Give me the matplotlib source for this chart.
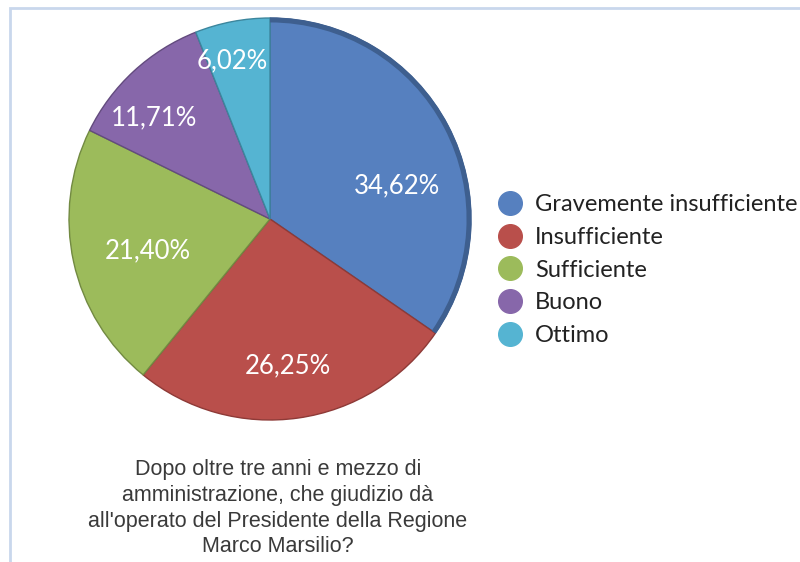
import matplotlib.pyplot as plt
from matplotlib.lines import Line2D
from matplotlib.patches import Rectangle, Arc

# Data
categories = ["Gravemente insufficiente", "Insufficiente", "Sufficiente", "Buono", "Ottimo"]
shares = [34.62, 26.25, 21.40, 11.71, 6.02]
colors = ["#5680bf", "#b94f4b", "#9cbb5b", "#8767aa", "#55b4d2"]
edges = ["#3e5f8f", "#8e3a37", "#728a42", "#634b7e", "#3c869d"]
question = ("Dopo oltre tre anni e mezzo di\namministrazione, che giudizio dà\n"
            "all'operato del Presidente della Regione\nMarco Marsilio?")

# small nudges (px) of the percentage labels, like Excel's best-fit placement
label_nudge = [(2, -32), (-2, -8), (15, -2), (-20, -2), (-11, 20)]

W, H = 800, 562
fig = plt.figure(figsize=(W / 100, H / 100), dpi=100)
fig.patch.set_facecolor("white")

# light frame of the original chart area (top and left edges)
fig.patches.append(Rectangle((10 / W, -0.2), 1.2, (H - 8) / H + 0.2,
                             transform=fig.transFigure, fill=False,
                             edgecolor="#c9d7ec", linewidth=2))

# pie axes: center (270, 219) px, radius ~203 px
r = 203
cx, cy = 270, H - 219
ax = fig.add_axes([(cx - r) / W, (cy - r) / H, 2 * r / W, 2 * r / H])

wedges, texts, autotexts = ax.pie(
    shares, colors=colors, startangle=90, counterclock=False,
    autopct=lambda p: f"{p:.2f}%".replace(".", ","), pctdistance=0.7,
    wedgeprops=dict(linewidth=1.0),
    textprops=dict(color="white", fontsize=18.5, family="Lato"))
for w, ec in zip(wedges, edges):
    w.set_edgecolor(ec)

# darker bevel along the outer rim of the first slice
w0 = wedges[0]
ax.add_patch(Arc((0, 0), 2 * w0.r - 0.02, 2 * w0.r - 0.02, theta1=w0.theta1,
                 theta2=w0.theta2, color=edges[0], linewidth=3.5))

lim = 1.01
ax.set_xlim(-lim, lim)
ax.set_ylim(-lim, lim)
ax.set_aspect("equal")
ax.axis("off")

px = 2 * lim / (2 * r)  # data units per pixel
for t, (dx, dy) in zip(autotexts, label_nudge):
    x, y = t.get_position()
    t.set_position((x + dx * px, y + dy * px))

# legend with round markers
handles = [Line2D([], [], linestyle="none", marker="o", markersize=17,
                  markerfacecolor=c, markeredgecolor=c) for c in colors]
fig.legend(handles, categories, loc="upper left",
           bbox_to_anchor=(498 / W, 1 - 194 / H), frameon=False,
           prop=dict(family="Lato", size=17), labelcolor="#222222",
           handlelength=1.0, handletextpad=0.56, labelspacing=0.5,
           borderpad=0, borderaxespad=0)

# question below the pie
fig.text(278 / W, 1 - 459 / H, question, ha="center", va="top",
         fontsize=15.5, family="Liberation Sans", color="#3a3a3a",
         linespacing=1.3)

fig.savefig("out.png", dpi=100)
